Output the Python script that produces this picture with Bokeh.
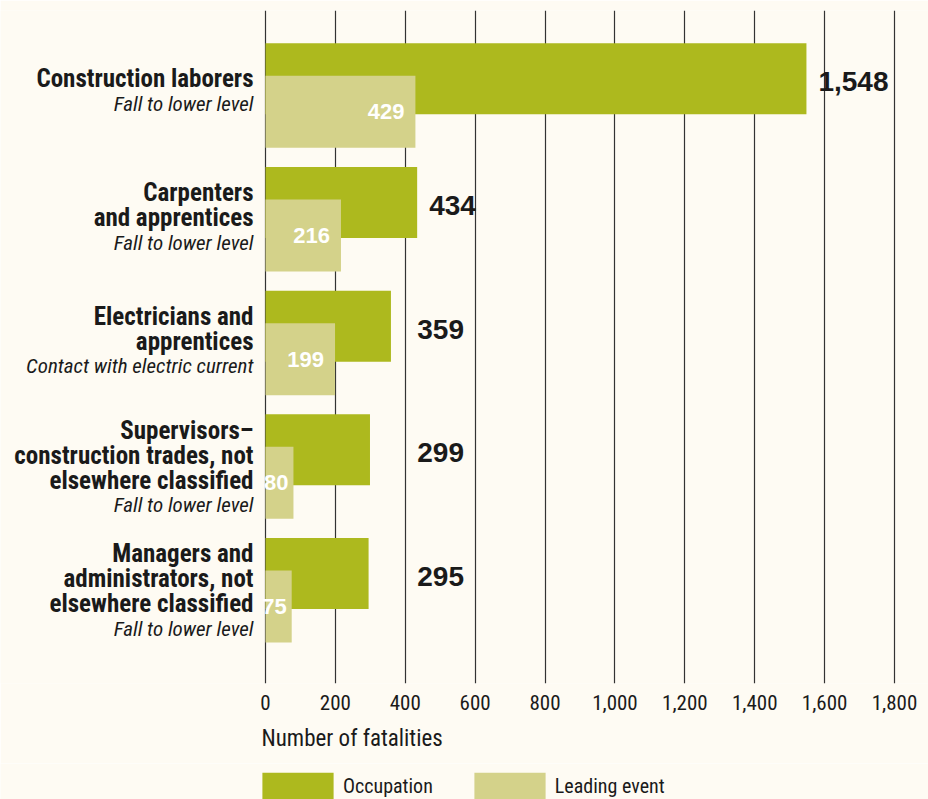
from bokeh.plotting import figure
from bokeh.layouts import column
from bokeh.models import (ColumnDataSource, Range1d, LabelSet, Legend, LegendItem, Title,
                          NumeralTickFormatter, FixedTicker)
from bokeh.core.properties import value
from bokeh.embed import file_html
from bokeh.resources import INLINE

# ---------------- data ----------------
occupations = [
    ["Construction laborers"],
    ["Carpenters", "and apprentices"],
    ["Electricians and", "apprentices"],
    ["Supervisors–", "construction trades, not", "elsewhere classified"],
    ["Managers and", "administrators, not", "elsewhere classified"],
]
leading_events = [
    "Fall to lower level",
    "Fall to lower level",
    "Contact with electric current",
    "Fall to lower level",
    "Fall to lower level",
]
occupation_fatalities = [1548, 434, 359, 299, 295]
event_fatalities = [429, 216, 199, 80, 75]
x_ticks = [0, 200, 400, 600, 800, 1000, 1200, 1400, 1600, 1800]
series_names = ["Occupation", "Leading event"]

# ---------------- style ----------------
BG = "#fefbf3"
OCC = "#adb91e"
LEAD = "#d4d28a"
INK = "#1a1a1a"
COND = "Roboto Condensed"
SANS = "Liberation Sans"

PX = 123.7                      # pixels per category
XPP = 1800 / 629                # data units per pixel along x
y_top = -0.544
y_bottom = 4.897
idx = list(range(len(occupations)))

p = figure(width=928, height=763, min_border_left=0, min_border_right=0,
           min_border_top=10, min_border_bottom=80,
           x_range=Range1d(-265 * XPP, 663 * XPP), y_range=Range1d(y_bottom, y_top),
           output_backend="svg", toolbar_location=None)
p.background_fill_color = BG
p.border_fill_color = BG
p.outline_line_color = None

p.yaxis.visible = False
p.ygrid.grid_line_color = None
p.xaxis.ticker = FixedTicker(ticks=x_ticks)
p.xgrid.ticker = FixedTicker(ticks=x_ticks)
p.xgrid.grid_line_color = "#333333"
p.xgrid.grid_line_width = 1.2
p.xaxis.formatter = NumeralTickFormatter(format="0,0")
p.xaxis.axis_line_color = None
p.xaxis.major_tick_line_color = None
p.xaxis.minor_tick_line_color = None
p.xaxis.major_tick_out = 0
p.xaxis.major_tick_in = 0
p.xaxis.major_label_standoff = 11
p.xaxis.major_label_text_font = COND
p.xaxis.major_label_text_font_size = "21px"
p.xaxis.major_label_text_color = INK

occ_src = ColumnDataSource(dict(y=[i + 1 / PX for i in idx], right=occupation_fatalities,
                                lx=[max(v, 400) for v in occupation_fatalities],
                                ly=[i + 4 / PX for i in idx],
                                txt=[f"{v:,}" for v in occupation_fatalities]))
lead_src = ColumnDataSource(dict(y=[i + 34 / PX for i in idx], right=event_fatalities,
                                 dx=[-11 if v > 150 else -5 for v in event_fatalities],
                                 txt=[str(v) for v in event_fatalities]))

p.hbar(y="y", left=0, right="right", height=71 / PX, source=occ_src,
       fill_color=OCC, line_color=None)
p.hbar(y="y", left=0, right="right", height=72 / PX, source=lead_src,
       fill_color=LEAD, line_color=None)

p.add_layout(LabelSet(x="lx", y="ly", text="txt", source=occ_src, x_offset=12,
                      text_font=value(SANS), text_font_style="bold", text_font_size="28px",
                      text_color=INK, text_baseline="middle", text_align="left"))
p.add_layout(LabelSet(x="right", y="y", text="txt", source=lead_src, x_offset="dx",
                      text_font=value(SANS), text_font_style="bold", text_font_size="22px",
                      text_color="white", text_baseline="middle", text_align="right"))

# category labels (bold lines + italic leading event)
bx, by, bt, ix, iy, it = [], [], [], [], [], []
for i, (lines, ev) in enumerate(zip(occupations, leading_events)):
    n = len(lines) + 1
    for k in range(n):
        yy = i + (8.5 + 2.6 * n + (k - (n - 1) / 2) * 25) / PX
        if k < len(lines):
            bx.append(0); by.append(yy); bt.append(lines[k])
        else:
            ix.append(0); iy.append(yy); it.append(ev)

p.add_layout(LabelSet(x="x", y="y", text="t", source=ColumnDataSource(dict(x=bx, y=by, t=bt)),
                      x_offset=-12, text_font=value(COND), text_font_style="bold",
                      text_font_size="25px", text_color=INK, text_align="right",
                      text_baseline="middle"))
p.add_layout(LabelSet(x="x", y="y", text="t", source=ColumnDataSource(dict(x=ix, y=iy, t=it)),
                      x_offset=-12, text_font=value(COND), text_font_style="italic",
                      text_font_size="21px", text_color=INK, text_align="right",
                      text_baseline="middle"))

p.add_layout(Title(text="Number of fatalities", align="left", offset=261,
                   text_font=COND, text_font_size="23px",
                   text_font_style="normal", text_color=INK, standoff=20), "below")

# ---------------- legend strip ----------------
lf = figure(width=928, height=36, min_border=0, x_range=Range1d(-2, -1), y_range=Range1d(0, 1),
            output_backend="svg", toolbar_location=None)
lf.background_fill_color = BG
lf.border_fill_color = BG
lf.outline_line_color = None
lf.axis.visible = False
lf.grid.visible = False
lr_occ = lf.hbar(y="y", left=0, right="right", height=0.5, source=occ_src,
                 fill_color=OCC, line_color=None)
lr_lead = lf.hbar(y="y", left=0, right="right", height=0.5, source=lead_src,
                  fill_color=LEAD, line_color=None)
legend = Legend(items=[LegendItem(label=series_names[0], renderers=[lr_occ]),
                       LegendItem(label=series_names[1], renderers=[lr_lead])],
                orientation="horizontal", location=(253, -3),
                glyph_width=89, glyph_height=33, label_standoff=1, spacing=32,
                padding=0, margin=0, border_line_color=None, background_fill_alpha=0,
                label_text_font=COND, label_text_font_size="20px", label_text_color=INK)
lf.add_layout(legend, "center")

layout = column(p, lf, spacing=0)
open("out.html", "w").write(file_html(layout, INLINE))
